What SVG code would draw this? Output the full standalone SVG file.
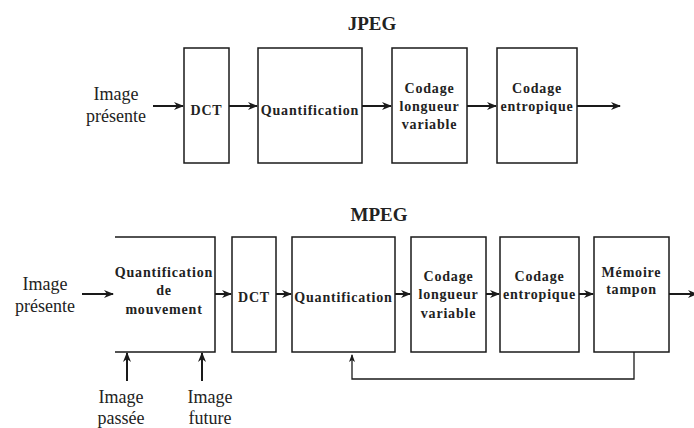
<svg xmlns="http://www.w3.org/2000/svg" width="694" height="428" viewBox="0 0 694 428">
<defs>
<marker id="ah" markerUnits="userSpaceOnUse" markerWidth="10" markerHeight="10" refX="9" refY="5" orient="auto">
<path d="M0,1 L10,5 L0,9 L3,5 Z" fill="#1a1a1a"/>
</marker>
<marker id="ahs" markerUnits="userSpaceOnUse" markerWidth="8" markerHeight="8" refX="7" refY="4" orient="auto">
<path d="M0,1 L8,4 L0,7 L2,4 Z" fill="#1a1a1a"/>
</marker>
</defs>
<style>
.box{fill:#fff;stroke:#1a1a1a;stroke-width:1.5}
.open{fill:none;stroke:#1a1a1a;stroke-width:1.5}
.arr{fill:none;stroke:#1a1a1a;stroke-width:2;marker-end:url(#ah)}
.fb{fill:none;stroke:#1a1a1a;stroke-width:1.3}
.lbl{font-family:"Liberation Serif","Times New Roman",serif;font-weight:bold;font-size:14px;letter-spacing:0.8px;fill:#222;text-anchor:middle}
.ttl{font-family:"Liberation Serif","Times New Roman",serif;font-weight:bold;font-size:19px;fill:#222;text-anchor:middle}
.in{font-family:"Liberation Serif","Times New Roman",serif;font-size:18px;fill:#222;text-anchor:middle}
</style>
<text class="ttl" x="372" y="30">JPEG</text>
<text class="ttl" x="379" y="221">MPEG</text>

<g id="jpeg-input"><text class="in" x="116" y="100">Image</text><text class="in" x="116" y="122">présente</text></g>
<g id="j-dct"><rect class="box" x="184" y="48" width="45" height="115"/><text class="lbl" x="206.5" y="115">DCT</text></g>
<g id="j-quant"><rect class="box" x="258" y="48" width="104" height="115"/><text class="lbl" x="310" y="115">Quantification</text></g>
<g id="j-clv"><rect class="box" x="392" y="48" width="75" height="115"/><text class="lbl" x="429.5" y="93">Codage</text><text class="lbl" x="429.5" y="111">longueur</text><text class="lbl" x="429.5" y="129">variable</text></g>
<g id="j-ent"><rect class="box" x="497" y="48" width="80" height="115"/><text class="lbl" x="537" y="93">Codage</text><text class="lbl" x="537" y="111">entropique</text></g>

<g id="mpeg-input"><text class="in" x="45" y="290">Image</text><text class="in" x="45" y="312">présente</text></g>
<g id="m-motion"><path class="open" d="M115,237 H215 V352 H115"/><text class="lbl" x="164" y="277">Quantification</text><text class="lbl" x="164" y="295">de</text><text class="lbl" x="164" y="314">mouvement</text></g>
<g id="m-dct"><rect class="box" x="232" y="237" width="44" height="115"/><text class="lbl" x="254" y="302">DCT</text></g>
<g id="m-quant"><rect class="box" x="292" y="237" width="103" height="115"/><text class="lbl" x="343.5" y="302">Quantification</text></g>
<g id="m-clv"><rect class="box" x="411" y="237" width="75" height="115"/><text class="lbl" x="448.5" y="281">Codage</text><text class="lbl" x="448.5" y="299">longueur</text><text class="lbl" x="448.5" y="318">variable</text></g>
<g id="m-ent"><rect class="box" x="500" y="237" width="79" height="115"/><text class="lbl" x="539.5" y="281">Codage</text><text class="lbl" x="539.5" y="299">entropique</text></g>
<g id="m-mem"><rect class="box" x="594" y="237" width="75" height="115"/><text class="lbl" x="631.5" y="277">Mémoire</text><text class="lbl" x="631.5" y="294">tampon</text></g>
<g id="past"><text class="in" x="121" y="403">Image</text><text class="in" x="121" y="424">passée</text></g>
<g id="future"><text class="in" x="210" y="403">Image</text><text class="in" x="210" y="424">future</text></g>

<g id="connectors">
<line class="arr" x1="153" y1="106" x2="183" y2="106"/>
<line class="arr" x1="229" y1="106" x2="257" y2="106"/>
<line class="arr" x1="362" y1="106" x2="391" y2="106"/>
<line class="arr" x1="467" y1="106" x2="496" y2="106"/>
<line class="arr" x1="577" y1="106" x2="620" y2="106"/>

<line class="arr" x1="82" y1="294" x2="113" y2="294"/>
<line class="arr" x1="215" y1="294" x2="231" y2="294"/>
<line class="arr" x1="276" y1="294" x2="291" y2="294"/>
<line class="arr" x1="395" y1="294" x2="410" y2="294"/>
<line class="arr" x1="486" y1="294" x2="499" y2="294"/>
<line class="arr" x1="579" y1="294" x2="593" y2="294"/>
<line class="arr" x1="669" y1="294" x2="697" y2="294"/>
<line class="arr" x1="127" y1="381" x2="127" y2="353"/>
<line class="arr" x1="202" y1="381" x2="202" y2="353"/>
<path class="fb" d="M634,352 V379 H352 V355" marker-end="url(#ahs)"/>
</g>
</svg>
